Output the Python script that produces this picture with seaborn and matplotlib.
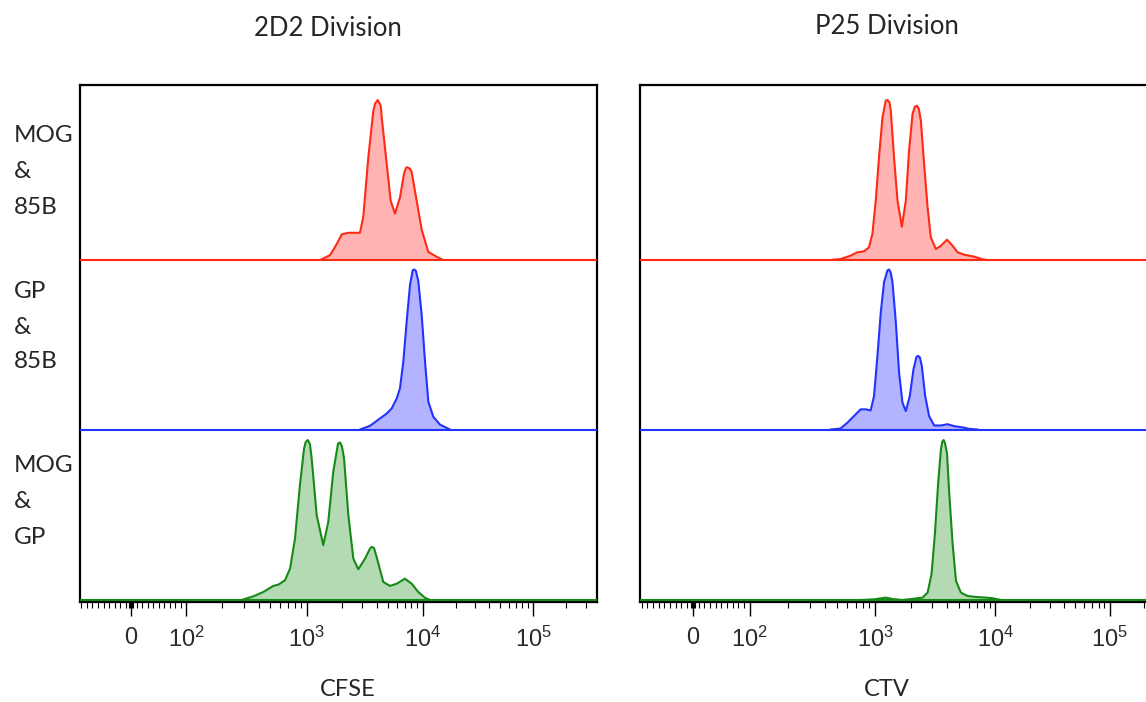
import numpy as np
import pandas as pd
import seaborn as sns
import matplotlib
matplotlib.use("Agg")
import matplotlib.pyplot as plt
from matplotlib.ticker import FixedLocator, FixedFormatter

# ---------------- data (log10 intensity, % of peak height) ----------------
panel_titles = ["2D2 Division", "P25 Division"]
panel_xlabels = ["CFSE", "CTV"]
row_labels = [["MOG", "&", "85B"], ["GP", "&", "85B"], ["MOG", "&", "GP"]]

cfse_mog85b_log = [3.115, 3.201, 3.259, 3.302, 3.359, 3.459, 3.488, 3.531, 3.574, 3.589, 3.612, 3.638,
                   3.647, 3.690, 3.724, 3.761, 3.804, 3.839, 3.856, 3.867, 3.890, 3.905, 3.948, 3.991,
                   4.051, 4.127, 4.186]
cfse_mog85b_pct = [0, 3, 10, 16, 17, 17, 27, 64, 93, 97.7, 100, 96.5, 89, 60, 37, 29, 39, 54, 57.5, 58,
                   57, 55, 37, 19, 5, 2, 0]

cfse_gp85b_log = [3.459, 3.546, 3.632, 3.690, 3.733, 3.776, 3.804, 3.833, 3.862, 3.891, 3.914, 3.928,
                  3.942, 3.962, 3.991, 4.021, 4.051, 4.096, 4.156, 4.247]
cfse_gp85b_pct = [0, 2.3, 6.9, 10, 13.2, 19.4, 25.7, 42.5, 67.6, 90.6, 99.5, 100, 99, 92.7, 71.8, 42.5,
                  17.4, 8, 3.1, 0]

cfse_moggp_log = [2.461, 2.558, 2.640, 2.723, 2.765, 2.820, 2.862, 2.903, 2.944, 2.978, 2.992, 3.009,
                  3.028, 3.043, 3.086, 3.143, 3.186, 3.229, 3.270, 3.287, 3.304, 3.322, 3.359, 3.402,
                  3.445, 3.503, 3.545, 3.560, 3.580, 3.603, 3.660, 3.718, 3.776, 3.847, 3.905, 3.962,
                  4.021, 4.066]
cfse_moggp_pct = [0, 2.3, 5, 8.8, 9.6, 12.3, 19.6, 38.4, 71.8, 94.7, 98.7, 100, 97.5, 88.5, 53, 34.3,
                  48.8, 80.2, 97.7, 98.5, 96, 88.5, 53, 25.9, 19.2, 25.9, 32, 33.2, 32.5, 26.9, 11.3,
                  8.8, 10.2, 13.3, 10.2, 5, 1.4, 0]

ctv_mog85b_log = [2.644, 2.724, 2.805, 2.858, 2.912, 2.952, 2.979, 3.006, 3.033, 3.062, 3.089, 3.103,
                  3.120, 3.131, 3.158, 3.187, 3.223, 3.256, 3.283, 3.312, 3.331, 3.348, 3.364, 3.381,
                  3.408, 3.437, 3.464, 3.506, 3.548, 3.598, 3.645, 3.687, 3.742, 3.825, 3.895, 3.937]
ctv_mog85b_pct = [0, 0.6, 2.7, 4.8, 5.4, 7.9, 16.3, 37.1, 64.2, 89.2, 99.6, 100, 98.5, 93.3, 64.2,
                  37.1, 20.8, 37.1, 68.3, 91.3, 95.8, 96.4, 94.5, 87.1, 60, 32.9, 14.1, 6.9, 8.9,
                  12.7, 8.9, 4.8, 3.3, 2.1, 0.4, 0]

ctv_gp85b_log = [2.644, 2.724, 2.778, 2.831, 2.885, 2.925, 2.965, 2.992, 3.020, 3.048, 3.075, 3.103,
                 3.117, 3.131, 3.145, 3.173, 3.200, 3.228, 3.256, 3.289, 3.320, 3.345, 3.358, 3.373,
                 3.389, 3.417, 3.450, 3.492, 3.548, 3.603, 3.658, 3.728, 3.783, 3.853]
ctv_gp85b_pct = [0, 0.6, 4.2, 8.3, 12.6, 12.6, 11.9, 20.9, 46, 73.3, 92.1, 99.4, 100, 98, 92.1, 67,
                 35.6, 16.8, 11.5, 20.9, 37.7, 45.5, 46, 45, 39.7, 20.9, 8.3, 2.5, 2.5, 3.3, 2.1,
                 1.3, 0.4, 0]

ctv_moggp_log = [2.885, 2.992, 3.089, 3.145, 3.228, 3.298, 3.395, 3.437, 3.470, 3.498, 3.525, 3.548,
                 3.558, 3.570, 3.581, 3.598, 3.617, 3.645, 3.673, 3.714, 3.770, 3.839, 3.922, 3.978,
                 4.050]
ctv_moggp_pct = [0, 0.4, 1.5, 0.6, 0, 0.6, 1.5, 4.6, 16.2, 41.5, 73.1, 94.1, 98.7, 100, 98.3, 92,
                 66.8, 35.2, 12, 4.6, 2.5, 1.9, 1.5, 1.1, 0]

major_tick_values = [0, 1e2, 1e3, 1e4, 1e5]
major_tick_labels = ["0", r"$10^2$", r"$10^3$", r"$10^4$", r"$10^5$"]

panels = [
    [(cfse_mog85b_log, cfse_mog85b_pct), (cfse_gp85b_log, cfse_gp85b_pct), (cfse_moggp_log, cfse_moggp_pct)],
    [(ctv_mog85b_log, ctv_mog85b_pct), (ctv_gp85b_log, ctv_gp85b_pct), (ctv_moggp_log, ctv_moggp_pct)],
]

# ---------------- styling ----------------
sns.set_theme(style="white")
plt.rcParams["font.family"] = ["Liberation Sans", "DejaVu Sans"]
plt.rcParams["mathtext.fontset"] = "custom"
plt.rcParams["mathtext.rm"] = "Liberation Sans"
plt.rcParams["mathtext.it"] = "Liberation Sans"
plt.rcParams["mathtext.bf"] = "Liberation Sans"
TEXT_FAMILY = ["Lato", "DejaVu Sans"]

line_colors = ["#ff2a14", "#2233ff", "#168a16"]
fill_colors = ["#ffb3b3", "#b3b3ff", "#b3dab3"]
offsets = [340.0, 170.5, 0.0]
pct_scale = 1.6

# logicle-like display transform (biexponential axis)
U_DEC = np.array([2.0, 3.0, 4.0, 5.0, 6.0])
U_POS = np.array([186.0, 306.7, 422.7, 533.0, 643.6])
LIN = 0.55


def fwd(x):
    x = np.asarray(x, dtype=float)
    lg = np.log10(np.maximum(x, 100.0))
    return np.where(x >= 100, np.interp(lg, U_DEC, U_POS), 186.0 + (x - 100.0) * LIN)


def inv(u):
    u = np.asarray(u, dtype=float)
    return np.where(u >= 186.0, 10 ** np.interp(u, U_POS, U_DEC), 100.0 + (u - 186.0) / LIN)


minor_vals = ([-v for v in range(10, 100, 10)] + [-3, -1.5, 1.5, 3] + list(range(10, 100, 10))
              + [m * 10 ** k for k in (2, 3, 4) for m in range(2, 10)] + [2e5, 3e5])

W, H = 1146, 702
fig = plt.figure(figsize=(W / 100, H / 100), dpi=100)
ax_rects = [(80, 517), (640, 536)]
top_px, bot_px = 85, 602

for p, ((lx, wpx), rows) in enumerate(zip(ax_rects, panels)):
    ax = fig.add_axes([lx / W, 1 - bot_px / H, wpx / W, (bot_px - top_px) / H])
    ax.set_xscale("function", functions=(fwd, inv))
    for r, (lg, pc) in enumerate(rows):
        df = pd.DataFrame({"x": 10 ** np.array(lg), "y": offsets[r] + np.array(pc) * pct_scale})
        ax.fill_between(df["x"], offsets[r], df["y"], color=fill_colors[r], linewidth=0, zorder=2)
        ax.axhline(offsets[r], color=line_colors[r], lw=1.5, zorder=3)
        sns.lineplot(data=df, x="x", y="y", ax=ax, color=line_colors[r], lw=1.5,
                     sort=False, legend=False, zorder=4, solid_joinstyle="round")
    ax.set_xlim(float(inv(80.0)), float(inv(597.0)))
    ax.set_ylim(-2, 515)
    ax.set_yticks([])
    ax.set_xlabel("")
    ax.set_ylabel("")
    ax.xaxis.set_major_locator(FixedLocator(major_tick_values))
    ax.xaxis.set_major_formatter(FixedFormatter(major_tick_labels))
    ax.xaxis.set_minor_locator(FixedLocator(minor_vals))
    ax.tick_params(axis="x", which="major", direction="out", length=10, width=1.0, color="black",
                   pad=8, labelsize=17, labelcolor="#2a2a2a", bottom=True)
    ax.tick_params(axis="x", which="minor", direction="out", length=4.5, width=0.8, color="black",
                   bottom=True)
    for s in ax.spines.values():
        s.set_visible(True)
        s.set_color("black")
        s.set_linewidth(1.6)

# titles and axis labels
fig.text(328 / W, 1 - 28 / H, panel_titles[0], ha="center", va="center", fontsize=18.5, family=TEXT_FAMILY)
fig.text(887 / W, 1 - 27 / H, panel_titles[1], ha="center", va="center", fontsize=18.5, family=TEXT_FAMILY)
fig.text(348 / W, 1 - 690 / H, panel_xlabels[0], ha="center", va="center", fontsize=17, family=TEXT_FAMILY)
fig.text(887 / W, 1 - 690 / H, panel_xlabels[1], ha="center", va="center", fontsize=17, family=TEXT_FAMILY)

row_line_y = [[136, 172, 208], [292, 327, 362], [466, 502, 538]]
for labels, ys in zip(row_labels, row_line_y):
    for t, y in zip(labels, ys):
        fig.text(14 / W, 1 - y / H, t, ha="left", va="center", fontsize=17.5, family=TEXT_FAMILY)

fig.savefig("out.png", dpi=100)
